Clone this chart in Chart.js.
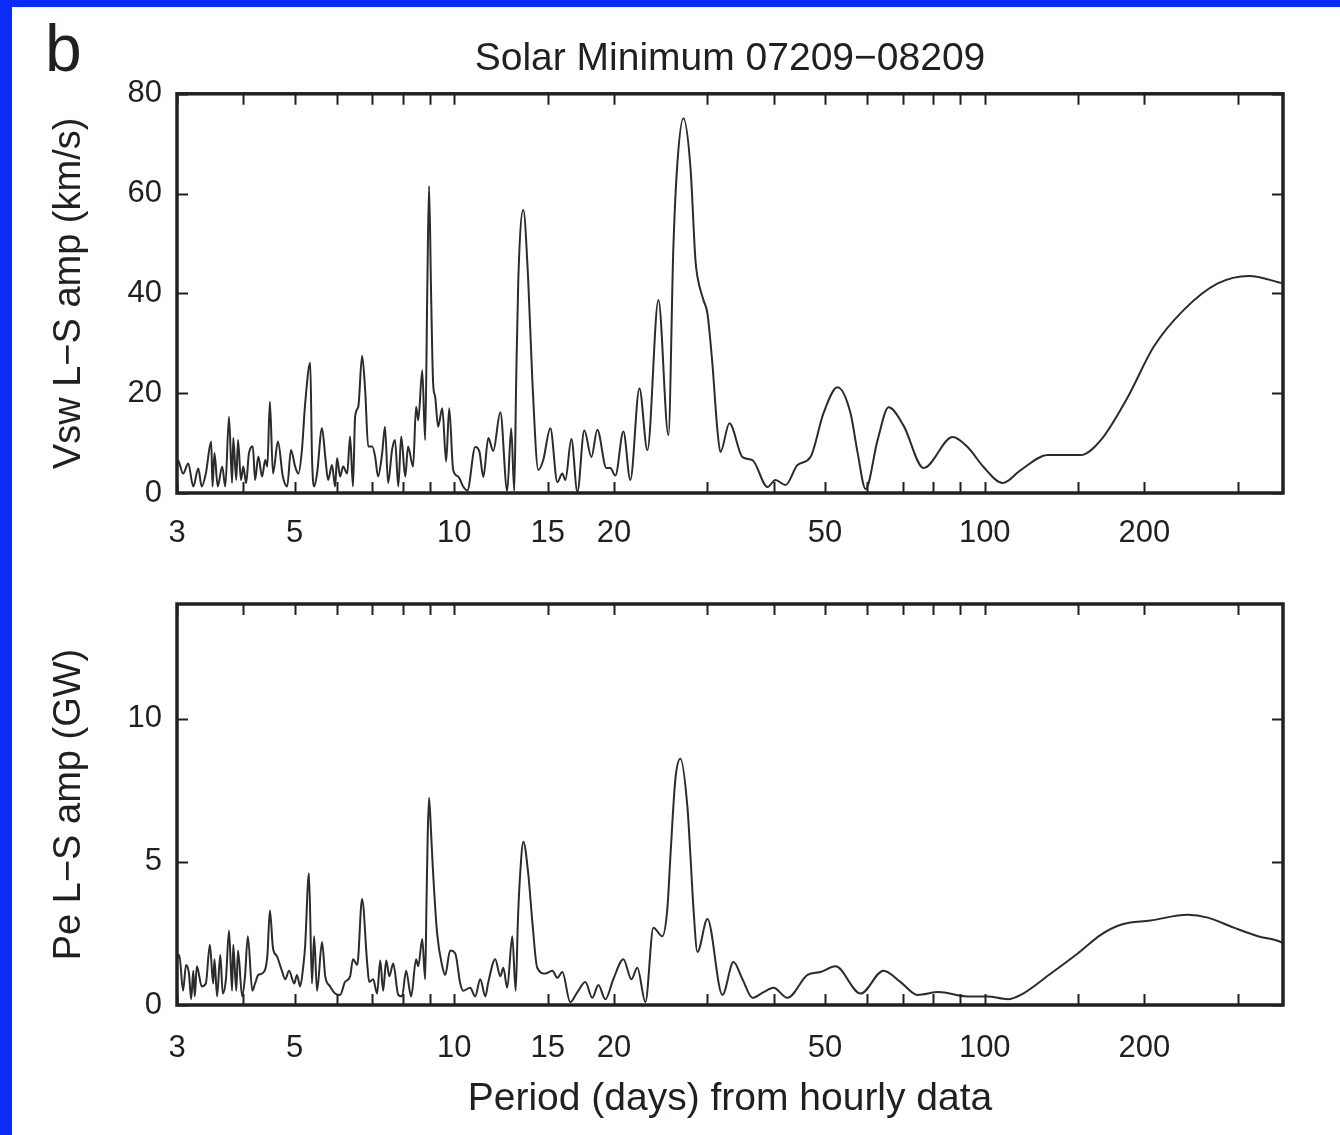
<!DOCTYPE html>
<html>
<head>
<meta charset="utf-8">
<script src="https://cdn.jsdelivr.net/npm/chart.js@4.4.1/dist/chart.umd.min.js"></script>
<style>
  body { margin: 0; background: #0a2cf5; width: 1340px; height: 1135px; overflow: hidden; }
  #hoja { position: absolute; left: 12px; top: 7px; width: 1328px; height: 1128px; background: #fff; }
  canvas { position: absolute; left: 0; }
  #panel { position: absolute; left: 45px; top: 15px; font: 66px 'Liberation Sans', Arial, sans-serif; line-height: 66px; color: #231f20; }
</style>
</head>
<body>
<div id="hoja"></div>
<div id="panel">b</div>
<canvas id="graficaV" width="1340" height="560" style="top:0px"></canvas>
<canvas id="graficaP" width="1340" height="575" style="top:560px"></canvas>
<script>
// periodos (dias) y amplitudes
const vswPeriodo = [3.00, 3.01, 3.08, 3.15, 3.22, 3.29, 3.34, 3.40, 3.48, 3.50, 3.53, 3.58, 3.65, 3.70, 3.76, 3.81, 3.83, 3.88, 3.91, 3.96,
  4.00, 4.05, 4.10, 4.17, 4.21, 4.27, 4.34, 4.40, 4.44, 4.49, 4.55, 4.65, 4.75, 4.84, 4.92, 5.01, 5.08, 5.16, 5.23, 5.35,
  5.39, 5.44, 5.51, 5.63, 5.71, 5.78, 5.88, 5.96, 6.01, 6.09, 6.17, 6.28, 6.36, 6.44, 6.50, 6.59, 6.70, 6.79, 6.88, 7.00,
  7.09, 7.18, 7.31, 7.40, 7.50, 7.63, 7.73, 7.84, 7.94, 8.08, 8.18, 8.36, 8.47, 8.55, 8.70, 8.81, 8.89, 8.96, 9.04, 9.12,
  9.20, 9.32, 9.49, 9.65, 9.78, 9.95, 10.17, 10.39, 10.58, 10.95, 11.15, 11.34, 11.59, 11.84, 12.21, 12.58, 12.80, 12.97, 13.08, 13.20,
  13.49, 13.78, 14.03, 14.40, 14.71, 15.17, 15.64, 15.98, 16.19, 16.62, 17.06, 17.58, 18.13, 18.60, 19.35, 19.68, 20.12, 20.83, 21.47, 22.33,
  23.12, 24.25, 25.33, 25.88, 26.33, 27.03, 27.87, 28.48, 28.73, 29.48, 30.0, 30.65, 31.33, 31.74, 33.01, 34.93, 36.48, 38.94, 40.31, 42.11,
  44.36, 46.93, 49.66, 52.77, 55.84, 57.6, 59.61, 62.8, 65.87, 70.3, 76.68, 86.98, 92.83, 99.5, 108.1, 116.9, 131.4, 151.7, 165.5, 186.0,
  208.2, 237.3, 275.0, 314.8, 365.0];
const vswAmp = [5.0, 6.6, 3.9, 5.9, 1.3, 4.9, 1.3, 3.9, 10.3, 1.3, 8.0, 1.3, 5.3, 1.3, 15.3, 2.0, 11.0, 2.6, 10.6, 2.6,
  5.3, 2.0, 8.0, 9.3, 2.6, 7.3, 3.3, 6.6, 5.3, 18.3, 3.9, 10.3, 3.3, 1.3, 8.6, 5.3, 3.9, 8.6, 17.6, 26.1,
  7.3, 1.3, 3.9, 13.0, 7.3, 2.6, 5.6, 1.3, 7.0, 3.3, 5.3, 3.9, 11.3, 1.3, 15.3, 17.3, 27.5, 20.6, 9.3, 9.3,
  7.3, 3.3, 8.0, 13.3, 2.0, 8.6, 10.6, 1.3, 11.3, 3.3, 9.3, 5.3, 17.3, 14.6, 24.6, 10.6, 40.0, 61.5, 40.0, 22.0,
  19.3, 13.3, 17.0, 6.3, 17.0, 4.6, 3.3, 1.3, 0.5, 9.2, 8.3, 3.2, 11.0, 8.4, 16.2, 0.4, 13.0, 0.4, 22.6, 42.7,
  56.7, 42.7, 22.6, 4.6, 6.6, 13.0, 2.2, 3.9, 2.6, 10.8, 0.2, 12.6, 7.2, 12.7, 5.0, 5.0, 3.5, 12.3, 2.6, 21.0,
  8.6, 38.7, 11.6, 49.3, 66.0, 75.1, 65.3, 46.7, 43.3, 38.7, 36.0, 26.0, 12.6, 8.2, 14.0, 7.2, 6.6, 1.2, 2.6, 1.6,
  5.6, 7.2, 16.0, 21.2, 16.0, 8.0, 0.8, 10.6, 17.2, 13.5, 5.0, 11.2, 9.2, 5.2, 2.0, 4.6, 7.6, 7.6, 10.6, 19.2,
  29.3, 36.7, 42.0, 43.5, 42.0];

const pePeriodo = [3.00, 3.03, 3.08, 3.12, 3.16, 3.19, 3.22, 3.24, 3.27, 3.34, 3.40, 3.46, 3.51, 3.53, 3.57, 3.62, 3.66, 3.71, 3.76, 3.81,
  3.83, 3.88, 3.91, 3.98, 4.03, 4.08, 4.16, 4.21, 4.27, 4.34, 4.44, 4.49, 4.55, 4.63, 4.73, 4.80, 4.88, 4.99, 5.05, 5.12,
  5.19, 5.23, 5.32, 5.39, 5.44, 5.51, 5.63, 5.71, 5.83, 5.96, 6.09, 6.22, 6.36, 6.44, 6.56, 6.70, 6.85, 6.91, 7.03, 7.15,
  7.25, 7.34, 7.44, 7.54, 7.67, 7.84, 7.97, 8.11, 8.29, 8.47, 8.55, 8.70, 8.81, 8.86, 8.91, 8.96, 9.04, 9.12, 9.28, 9.49,
  9.61, 9.82, 10.04, 10.26, 10.39, 10.71, 10.95, 11.19, 11.44, 11.59, 11.94, 12.21, 12.37, 12.58, 12.86, 13.05, 13.18, 13.31, 13.49, 13.78,
  14.03, 14.33, 14.84, 15.30, 15.64, 15.98, 16.54, 17.06, 17.66, 18.20, 18.69, 19.26, 19.94, 20.83, 21.57, 22.13, 22.92, 23.73, 24.67, 25.22,
  25.55, 26.11, 26.68, 27.51, 27.87, 28.23, 28.73, 30.0, 32.02, 33.59, 34.93, 36.48, 38.27, 39.97, 42.47, 46.33, 49.01, 52.32, 58.33, 64.43,
  69.40, 74.71, 81.86, 92.83, 101.3, 110.5, 116.9, 133.2, 149.7, 165.5, 180.5, 205.5, 241.5, 263.4, 294.8, 327.3, 361.6, 365.0];
const peAmp = [1.6, 1.75, 0.5, 1.4, 1.1, 0.2, 1.2, 0.3, 1.35, 0.65, 0.75, 2.1, 0.75, 1.6, 0.3, 1.75, 0.4, 0.9, 2.6, 0.5,
  2.1, 0.5, 1.9, 0.3, 1.0, 2.4, 0.5, 0.75, 1.05, 1.1, 1.7, 3.3, 2.0, 1.7, 1.2, 0.9, 1.2, 0.75, 1.05, 0.65,
  1.35, 2.0, 4.6, 0.75, 2.4, 0.5, 2.2, 1.0, 0.65, 0.4, 0.35, 0.8, 1.0, 1.6, 1.4, 3.7, 1.45, 0.8, 0.9, 0.4,
  1.55, 0.5, 1.55, 1.0, 1.45, 0.35, 0.3, 1.2, 0.3, 1.6, 1.35, 2.3, 0.9, 3.5, 6.0, 7.24, 6.0, 4.6, 2.5, 1.35,
  1.05, 1.9, 1.8, 0.75, 0.5, 0.6, 0.3, 0.9, 0.3, 0.8, 1.6, 1.0, 1.3, 0.6, 2.4, 0.5, 3.0, 4.6, 5.7, 4.6,
  2.9, 1.3, 1.1, 1.2, 0.95, 1.15, 0.1, 0.45, 0.8, 0.25, 0.7, 0.2, 0.9, 1.6, 0.9, 1.3, 0.1, 2.7, 2.4, 3.4,
  5.2, 7.9, 8.6, 6.9, 5.2, 3.4, 1.85, 3.0, 0.35, 1.5, 0.9, 0.25, 0.45, 0.6, 0.25, 1.05, 1.15, 1.35, 0.4, 1.2,
  0.8, 0.35, 0.45, 0.3, 0.3, 0.2, 0.35, 1.1, 1.8, 2.45, 2.8, 2.95, 3.15, 3.05, 2.7, 2.4, 2.2, 2.15];

const xEtiquetas = [3, 5, 10, 15, 20, 50, 100, 200];
const xMarcas = [3, 4, 5, 6, 7, 8, 9, 10, 15, 20, 30, 40, 50, 60, 70, 80, 90, 100, 150, 200, 300];
const vswMarcas = [0, 20, 40, 60, 80];
const peMarcas = [0, 5, 10];

const tinta = '#231f20';
Chart.defaults.font.family = "'Liberation Sans', Arial, sans-serif";
Chart.defaults.color = tinta;

// marco del grafico y marcas hacia adentro en los cuatro lados
const marco = {
  id: 'marco',
  afterDraw(chart, args, opts) {
    let ctx = chart.ctx;
    let a = chart.chartArea;
    let x = chart.scales.x;
    let y = chart.scales.y;
    ctx.save();
    ctx.strokeStyle = tinta;
    ctx.lineWidth = 2;
    ctx.beginPath();
    xMarcas.forEach(v => {
      let px = Math.round(x.getPixelForValue(v)) + 0.5;
      ctx.moveTo(px, a.bottom); ctx.lineTo(px, a.bottom - 11);
      ctx.moveTo(px, a.top); ctx.lineTo(px, a.top + 11);
    });
    opts.yMarcas.forEach(v => {
      let py = Math.round(y.getPixelForValue(v)) + 0.5;
      ctx.moveTo(a.left, py); ctx.lineTo(a.left + 11, py);
      ctx.moveTo(a.right, py); ctx.lineTo(a.right - 11, py);
    });
    ctx.stroke();
    ctx.lineWidth = 3.5;
    ctx.strokeRect(a.left, a.top, a.right - a.left, a.bottom - a.top);
    ctx.restore();
  }
};

function crearGrafica(id, periodos, amps, yMarcas, yMax, yTitulo, extra) {
  let puntos = periodos.map((p, i) => ({ x: p, y: amps[i] }));
  return new Chart(document.getElementById(id), {
    type: 'line',
    data: {
      datasets: [{
        data: puntos,
        borderColor: '#2b2b2b',
        borderWidth: 2,
        pointRadius: 0,
        cubicInterpolationMode: 'monotone',
        fill: false
      }]
    },
    options: {
      responsive: false,
      animation: false,
      events: [],
      layout: { padding: extra.padding },
      plugins: {
        legend: { display: false },
        tooltip: { enabled: false },
        title: extra.titulo,
        marco: { yMarcas: yMarcas }
      },
      scales: {
        x: {
          type: 'logarithmic',
          min: 3,
          max: 365,
          grid: { display: false, drawTicks: false },
          border: { display: false },
          afterBuildTicks: s => { s.ticks = xEtiquetas.map(v => ({ value: v })); },
          afterFit: s => { s.height = extra.altoX; },
          ticks: {
            autoSkip: false,
            maxRotation: 0,
            padding: extra.padX,
            font: { size: 31 },
            callback: v => String(v)
          },
          title: extra.tituloX
        },
        y: {
          min: 0,
          max: yMax,
          grid: { display: false, drawTicks: false },
          border: { display: false },
          afterBuildTicks: s => { s.ticks = yMarcas.map(v => ({ value: v })); },
          afterFit: s => { s.width = 177; },
          ticks: { padding: 15, font: { size: 31 } },
          title: {
            display: true,
            text: yTitulo,
            font: { size: 38 },
            padding: { top: 47, bottom: 0 }
          }
        }
      }
    },
    plugins: [marco]
  });
}

crearGrafica('graficaV', vswPeriodo, vswAmp, vswMarcas, 80, 'Vsw L\u2212S amp (km/s)', {
  padding: { top: 0, right: 57, bottom: 0, left: 0 },
  titulo: {
    display: true,
    fullSize: false,
    text: 'Solar Minimum 07209\u221208209',
    font: { size: 39, weight: 'normal' },
    color: tinta,
    padding: { top: 36, bottom: 11 }
  },
  altoX: 67,
  padX: 22,
  tituloX: { display: false }
});

crearGrafica('graficaP', pePeriodo, peAmp, peMarcas, 14, 'Pe L\u2212S amp (GW)', {
  padding: { top: 44, right: 57, bottom: 0, left: 0 },
  titulo: { display: false },
  altoX: 130,
  padX: 25,
  tituloX: {
    display: true,
    text: 'Period (days) from hourly data',
    font: { size: 39 },
    padding: { top: 0, bottom: 12 }
  }
});
</script>
</body>
</html>
